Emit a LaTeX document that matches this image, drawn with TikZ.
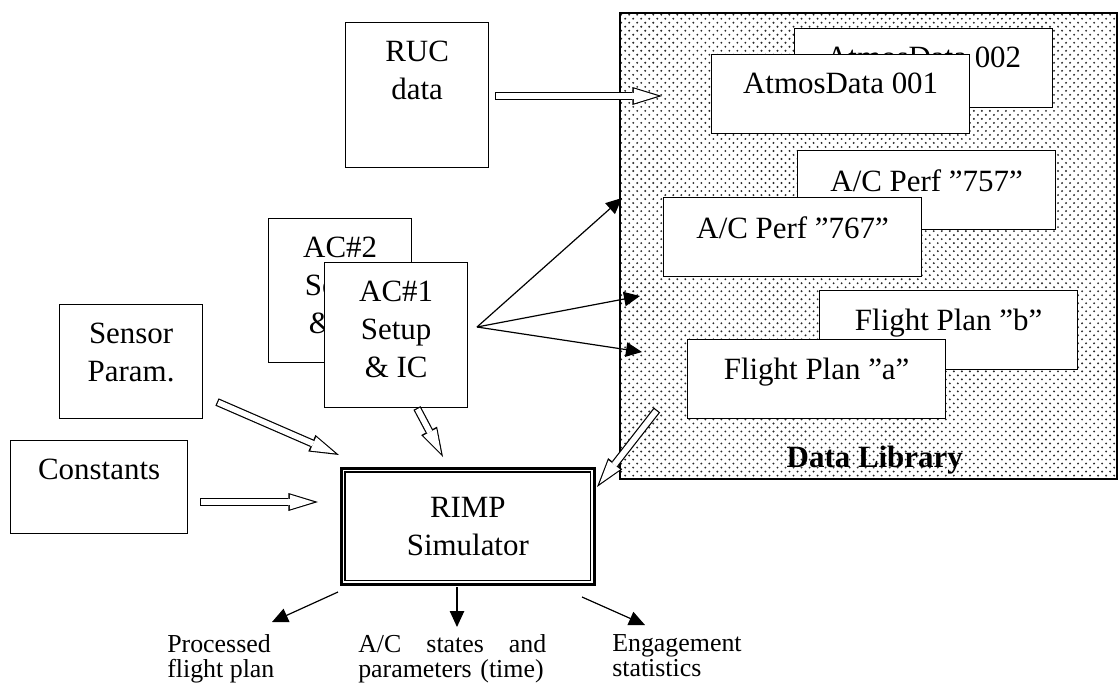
\documentclass[tikz,border=0pt]{standalone}
\usepackage{fontspec}
\setmainfont{Liberation Serif}
\usepackage{xcolor}
\usepackage{tikz}
\usetikzlibrary{arrows.meta,positioning,patterns}
\definecolor{rpdots}{RGB}{40,40,40}
\pgfdeclarepatternformonly{rpdotpat}{\pgfqpoint{-1pt}{-1pt}}{\pgfqpoint{4.7pt}{4.7pt}}{\pgfqpoint{5.7pt}{5.7pt}}{%
  \pgfpathcircle{\pgfqpoint{0pt}{0pt}}{0.75pt}%
  \pgfpathcircle{\pgfqpoint{2.85pt}{2.85pt}}{0.75pt}%
  \pgfusepath{fill}}
\tikzset{
  rpfont/.style={font=\fontsize{22}{27}\selectfont},
  rpbox/.style={draw, line width=0.03cm, fill=white, anchor=north west, rpfont},
  rplbl/.style={anchor=north, align=center, inner sep=0pt, yshift=-0.475cm, rpfont},
  rpdata/.style={rpbox, minimum width=6.45cm, minimum height=1.975cm},
  rpsrc/.style={rpbox, minimum width=3.575cm},
  rpout/.style={anchor=north west, align=left, inner sep=0pt, font=\fontsize{18.4}{17.8}\selectfont},
  rparr/.style={-{Triangle[length=0.4cm, width=0.36cm]}, line width=0.03cm},
  rphollow/.style={white, line width=0.14cm, shorten <=0.03cm, shorten >=0.1025cm,
    -{Triangle[length=0.6cm, width=0.37cm, line width=0pt]},
    preaction={draw=black, line width=0.2cm, shorten <=0pt, shorten >=0pt,
      -{Triangle[length=0.74cm, width=0.45cm, line width=0pt]}}}
}
\begin{document}
\begin{tikzpicture}[x=0.025cm, y=-0.025cm]
\useasboundingbox (0,0) rectangle (1118,692);
\node[draw, line width=0.04cm, anchor=north west, minimum width=12.425cm, minimum height=11.65cm,
  pattern=rpdotpat, pattern color=rpdots,
  label={[anchor=base, yshift=0.3cm, xshift=0.16cm, font=\fontsize{22}{27}\selectfont\bfseries]south:Data Library}] (lib) at (619,12) {};
\node[rpdata, label={[rplbl]north:AtmosData 002}] (atm2) at (794,28) {};
\node[rpdata, label={[rplbl]north:AtmosData 001}] (atm1) at (711,54) {};
\node[rpdata, label={[rplbl]north:A/C Perf ”757”}] (perf2) at (797,150) {};
\node[rpdata, label={[rplbl]north:A/C Perf ”767”}] (perf1) at (663,197) {};
\node[rpdata, label={[rplbl]north:Flight Plan ”b”}] (fpb) at (819,290) {};
\node[rpdata, label={[rplbl]north:Flight Plan ”a”}] (fpa) at (687,339) {};
\node[rpsrc, minimum height=3.625cm, label={[rplbl]north:{RUC\\data}}] (ruc) at (345,22) {};
\node[rpsrc, minimum height=3.6cm, label={[rplbl]north:{AC\#2\\Setup\\\& IC}}] (ac2) at (268,218) {};
\node[rpsrc, minimum height=3.625cm, label={[rplbl]north:{AC\#1\\Setup\\\& IC}}] (ac1) at (324,262) {};
\node[rpsrc, minimum height=2.85cm, label={[rplbl]north:{Sensor\\Param.}}] (sensor) at (59,304) {};
\node[rpbox, minimum width=4.425cm, minimum height=2.325cm, label={[rplbl]north:Constants}] (const) at (10,440) {};
\node[rpbox, line width=0.065cm, minimum width=6.325cm, minimum height=2.9cm, align=center] (rimp) at (340,467) {RIMP\\Simulator};
\draw[line width=0.035cm] ([shift={(5,5)}]rimp.north west) rectangle ([shift={(-5,-5)}]rimp.south east);
\node[rpout] (proc) at (167,634) {Processed\\flight plan};
\node[rpout, text width=4.7cm] (acst) at (358,634) {A/C\hfill states\hfill and\\parameters (time)};
\node[rpout] (eng) at (612,634) {Engagement\\statistics};
\coordinate (ac1o) at (477,327);
\coordinate (lib1) at (622,198);
\coordinate (lib2) at (640,296);
\coordinate (lib3) at (642,352);
\draw[rparr] (ac1o) -- (lib1);
\draw[rparr] (ac1o) -- (lib2);
\draw[rparr] (ac1o) -- (lib3);
\coordinate (rucs) at (495,96);
\coordinate (ruce) at (662,96);
\coordinate (sens) at (217,402);
\coordinate (sene) at (339,455);
\coordinate (ac1s) at (417,408);
\coordinate (ac1e) at (443,457);
\coordinate (cons) at (200,502);
\coordinate (cone) at (318,502);
\coordinate (libs) at (657,410);
\coordinate (libe) at (597,487);
\draw[rphollow] (rucs) -- (ruce);
\draw[rphollow] (sens) -- (sene);
\draw[rphollow] (ac1s) -- (ac1e);
\draw[rphollow] (cons) -- (cone);
\draw[rphollow] (libs) -- (libe);
\coordinate (out1) at (338,592);
\coordinate (out2) at (457,587);
\coordinate (out3) at (582,597);
\coordinate (proce) at (272,622);
\coordinate (acste) at (457,627);
\coordinate (enge) at (645,625);
\draw[rparr] (out1) -- (proce);
\draw[rparr] (out2) -- (acste);
\draw[rparr] (out3) -- (enge);
\end{tikzpicture}
\end{document}
